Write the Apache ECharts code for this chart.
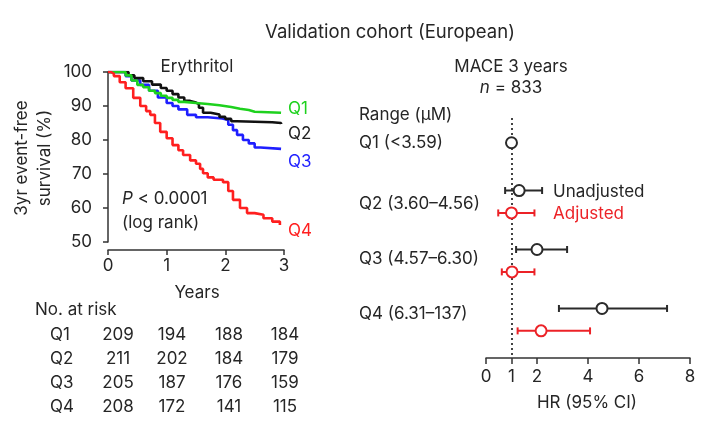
<!DOCTYPE html>
<html><head><meta charset="utf-8">
<script src="https://cdn.jsdelivr.net/npm/echarts@6/dist/echarts.min.js"></script>
<style>html,body{margin:0;padding:0;background:#fff}#c{width:712px;height:430px}</style>
</head><body><div id="c"></div>
<script>
// ---- Kaplan-Meier data (years, % event-free) ----
const quartiles = ['Q1', 'Q2', 'Q3', 'Q4'];
const kmQ1 = [[0,100],[0.2,100],[0.3,99],[0.4,97.5],[0.5,96.2],[0.6,95.5],[0.7,94.5],[0.8,93.8],[0.9,93],[1.0,92.4],[1.1,91.8],[1.2,91.2],[1.3,90.9],[1.5,90.6],[1.7,90.2],[1.9,89.7],[2.1,89.2],[2.25,88.8],[2.4,88.3],[2.5,88],[2.95,88]];
const kmQ2 = [[0,100],[0.25,100],[0.35,99],[0.45,98.2],[0.6,97.3],[0.75,96.3],[0.9,95.3],[1.0,94.5],[1.1,93.5],[1.2,92.5],[1.3,91.5],[1.4,91],[1.5,90.6],[1.55,89.5],[1.62,88],[1.75,87.5],[1.9,86.8],[2.0,86.2],[2.1,85.5],[2.2,85.2],[2.8,85],[2.95,84.7]];
const kmQ3 = [[0,100],[0.2,100],[0.3,98.8],[0.4,97.5],[0.55,96.2],[0.7,94.5],[0.85,92.5],[1.0,90.9],[1.1,90],[1.2,89],[1.35,87.4],[1.5,86.7],[1.7,86.3],[1.95,85.9],[2.05,84.5],[2.13,82.9],[2.2,81.5],[2.3,80],[2.4,79],[2.5,77.8],[2.6,77.4],[2.95,77.3]];
const kmQ4 = [[0,100],[0.05,99.5],[0.1,98.8],[0.2,97],[0.3,95.2],[0.43,92.4],[0.55,90],[0.65,88.5],[0.72,87.4],[0.8,85],[0.89,82.4],[1.0,80.5],[1.1,78.5],[1.2,77],[1.28,75.6],[1.4,74],[1.5,73],[1.57,71.5],[1.62,70.2],[1.7,69],[1.8,68.3],[1.96,67.6],[2.05,65],[2.13,62.4],[2.25,60],[2.37,58.5],[2.5,58],[2.65,57],[2.8,56],[2.93,55]];

// ---- Numbers at risk ----
const riskQ1 = [209, 194, 188, 184];
const riskQ2 = [211, 202, 184, 179];
const riskQ3 = [205, 187, 176, 159];
const riskQ4 = [208, 172, 141, 115];

// ---- Forest plot (HR, 95% CI) ----
const ranges = ['Q1 (<3.59)', 'Q2 (3.60–4.56)', 'Q3 (4.57–6.30)', 'Q4 (6.31–137)'];
const hrUnadj   = [1.0, 1.3, 2.0, 4.55];
const ciUnadjLo = [null, 0.75, 1.18, 2.86];
const ciUnadjHi = [null, 2.2, 3.18, 7.1];
const hrAdj     = [null, 1.0, 1.02, 2.16];
const ciAdjLo   = [null, 0.48, 0.62, 1.24];
const ciAdjHi   = [null, 1.9, 1.9, 4.08];
const hrTicks = [0, 1, 2, 4, 6, 8];

const FONT = 'Inter';
const FS = 17;
const TXT = '#262626';
const colors = ['#1ed11e', '#111111', '#1f1fff', '#ff1f1f'];
const RED = '#ec2227', DARK = '#2a2a2a';

const chart = echarts.init(document.getElementById('c'), null, {renderer: 'canvas'});

// forest row positions
const rowOff = 0.19;
const unadjPts = [], unadjBars = [], adjPts = [], adjBars = [];
quartiles.forEach((q, i) => {
  const row = i + 1;
  const hasAdj = hrAdj[i] != null;
  const yu = hasAdj ? row - rowOff : row;
  unadjPts.push([hrUnadj[i], yu]);
  if (ciUnadjLo[i] != null) unadjBars.push([ciUnadjLo[i], ciUnadjHi[i], yu]);
  if (hasAdj) {
    adjPts.push([hrAdj[i], row + rowOff]);
    adjBars.push([ciAdjLo[i], ciAdjHi[i], row + rowOff]);
  }
});

function barRender(color) {
  return function (params, api) {
    const a = api.coord([api.value(0), api.value(2)]);
    const b = api.coord([api.value(1), api.value(2)]);
    const st = {stroke: color, lineWidth: 2};
    return {type: 'group', children: [
      {type: 'line', shape: {x1: a[0], y1: a[1], x2: b[0], y2: b[1]}, style: st},
      {type: 'line', shape: {x1: a[0], y1: a[1] - 3.5, x2: a[0], y2: a[1] + 3.5}, style: st},
      {type: 'line', shape: {x1: b[0], y1: b[1] - 3.5, x2: b[0], y2: b[1] + 3.5}, style: st}
    ]};
  };
}

function txt(x, y, s, o) {
  o = o || {};
  return {type: 'text', x: x, y: y, rotation: o.rot || 0, style: {
    text: s, fill: o.color || TXT, font: (o.style || '') + ' ' + (o.size || FS) + 'px ' + FONT,
    align: o.align || 'left', verticalAlign: 'middle'
  }};
}
function richTxt(x, y, s, align) {
  return {type: 'text', x: x, y: y, style: {text: s, align: align, verticalAlign: 'middle', fill: TXT, font: FS + 'px ' + FONT,
    rich: {i: {fontStyle: 'italic', fontFamily: FONT, fontSize: FS, fill: TXT}}}};
}

const graphics = [];
graphics.push(txt(390, 32, 'Validation cohort (European)', {align: 'center', size: 18.5}));
graphics.push(txt(197, 67, 'Erythritol', {align: 'center'}));
graphics.push(txt(511, 67, 'MACE 3 years', {align: 'center'}));
graphics.push(richTxt(511, 88, '{i|n} = 833', 'center'));
graphics.push(richTxt(122, 199, '{i|P} < 0.0001', 'left'));
graphics.push(txt(122, 223, '(log rank)'));
// y axis title
graphics.push(txt(22, 158, '3yr event-free', {align: 'center', rot: Math.PI / 2}));
graphics.push(txt(45, 158, 'survival (%)', {align: 'center', rot: Math.PI / 2}));
graphics.push(txt(197, 293, 'Years', {align: 'center'}));
// curve end labels
const endY = [109, 134, 162, 231];
quartiles.forEach((q, i) => graphics.push(txt(288, endY[i], q, {color: i === 1 ? '#222' : colors[i]})));
// risk table
graphics.push(txt(35, 310, 'No. at risk'));
const riskRows = [riskQ1, riskQ2, riskQ3, riskQ4];
const riskColX = [118, 172, 229, 285];
const riskRowY = [335, 359, 383, 407];
riskRows.forEach((r, i) => {
  graphics.push(txt(50, riskRowY[i], quartiles[i]));
  r.forEach((v, j) => graphics.push(txt(riskColX[j], riskRowY[i], String(v), {align: 'center'})));
});
// forest labels
graphics.push(txt(359, 115, 'Range (μM)'));
const rangeY = [143, 204, 259, 314];
ranges.forEach((s, i) => graphics.push(txt(359, rangeY[i], s)));
graphics.push(txt(553, 192, 'Unadjusted'));
graphics.push(txt(553, 214, 'Adjusted', {color: RED}));
graphics.push(txt(587, 403, 'HR (95% CI)', {align: 'center'}));

const axisLine = {lineStyle: {color: '#333', width: 1.5}};
const axisTick = {length: 5, lineStyle: {color: '#333', width: 1.5}};
const axisLabel = {color: TXT, fontFamily: FONT, fontSize: FS};

const option = {
  animation: false,
  backgroundColor: '#fff',
  grid: [
    {left: 108, top: 72, width: 176, height: 170},
    {left: 486, top: 118, width: 204, height: 240}
  ],
  xAxis: [
    {gridIndex: 0, type: 'value', min: 0, max: 3, interval: 1, offset: 8,
     axisLine: axisLine, axisTick: axisTick, splitLine: {show: false},
     axisLabel: Object.assign({margin: 7}, axisLabel)},
    {gridIndex: 1, type: 'value', min: 0, max: 8, interval: 1,
     axisLine: axisLine, axisTick: Object.assign({customValues: hrTicks}, axisTick, {length: 6}), splitLine: {show: false},
     axisLabel: Object.assign({margin: 10, customValues: hrTicks}, axisLabel)}
  ],
  yAxis: [
    {gridIndex: 0, type: 'value', min: 50, max: 100, interval: 10, offset: 8,
     axisLine: axisLine, axisTick: axisTick, splitLine: {show: false},
     axisLabel: Object.assign({margin: 8}, axisLabel)},
    {gridIndex: 1, type: 'value', min: 0.58, max: 4.65, inverse: true, show: false, splitLine: {show: false}}
  ],
  series: [
    ...[kmQ1, kmQ2, kmQ3, kmQ4].map((d, i) => ({
      type: 'line', xAxisIndex: 0, yAxisIndex: 0, data: d, step: 'end', showSymbol: false,
      lineStyle: {color: colors[i], width: 2.6}, z: i === 3 ? 9 : 5 - i
    })),
    {type: 'custom', xAxisIndex: 1, yAxisIndex: 1, data: unadjBars, renderItem: barRender(DARK), z: 3},
    {type: 'custom', xAxisIndex: 1, yAxisIndex: 1, data: adjBars, renderItem: barRender(RED), z: 3},
    {type: 'scatter', xAxisIndex: 1, yAxisIndex: 1, data: unadjPts, symbol: 'circle', symbolSize: 11,
     itemStyle: {color: '#fff', borderColor: DARK, borderWidth: 2, opacity: 1}, z: 5,
     markLine: {silent: true, symbol: 'none', label: {show: false}, lineStyle: {color: '#444', type: [2, 3], width: 2},
       data: [{xAxis: 1}], z: 1}},
    {type: 'scatter', xAxisIndex: 1, yAxisIndex: 1, data: adjPts, symbol: 'circle', symbolSize: 11,
     itemStyle: {color: '#fff', borderColor: RED, borderWidth: 2, opacity: 1}, z: 5}
  ],
  graphic: graphics
};
chart.setOption(option);
</script>
</body></html>
